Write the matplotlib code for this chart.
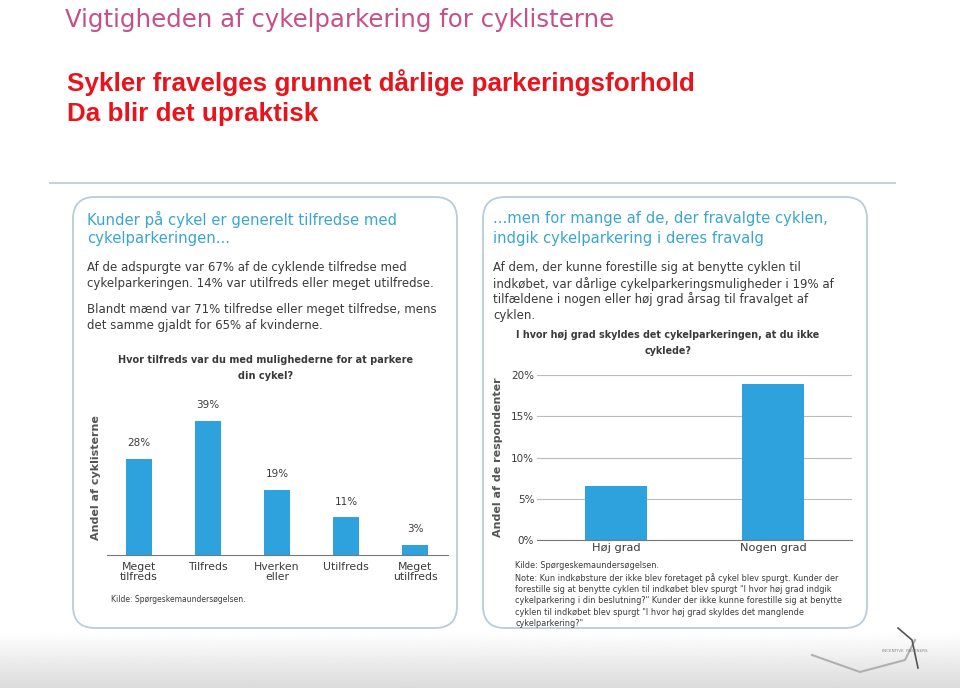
import numpy as np
import matplotlib.pyplot as plt
from matplotlib.patches import FancyBboxPatch

# data
sat_labels = ["Meget\ntilfreds", "Tilfreds", "Hverken\neller", "Utilfreds", "Meget\nutilfreds"]
sat_values = [28, 39, 19, 11, 3]

reason_labels = ["Høj grad", "Nogen grad"]
reason_values = [6.5, 18.9]
reason_ticks = [0, 5, 10, 15, 20]

bar_color = "#2da2dc"
head_color = "#3aa6cf"
text_color = "#3a3a3a"
frame_color = "#b9ccd8"

fig = plt.figure(figsize=(9.6, 6.88), dpi=100)

# background axes in pixel coordinates
bg = fig.add_axes([0, 0, 1, 1])
bg.set_xlim(0, 960)
bg.set_ylim(688, 0)
bg.axis("off")

# grey fade at the bottom of the slide
grad = np.linspace(1, 0.86, 60).reshape(-1, 1)
bg.imshow(grad, cmap="gray", vmin=0, vmax=1, extent=(0, 960, 688, 632), aspect="auto", zorder=0)

bg.text(65, 20, "Vigtigheden af cykelparkering for cyklisterne", color="#c8508a",
        fontsize=17.6, va="center", ha="left")
bg.text(67, 83, "Sykler fravelges grunnet dårlige parkeringsforhold", color="#e8141c",
        fontsize=18.7, fontweight="bold", family="Liberation Sans", va="center")
bg.text(67, 114, "Da blir det upraktisk", color="#e8141c",
        fontsize=18.7, fontweight="bold", family="Liberation Sans", va="center")
bg.plot([50, 895], [183, 183], color="#c5d3de", lw=1.5)

for x0 in (73, 483):
    bg.add_patch(FancyBboxPatch((x0, 197), 384, 431, boxstyle="round,pad=0,rounding_size=22",
                                fc="white", ec=frame_color, lw=1.3, zorder=1))

# left panel texts
bg.text(87, 219, "Kunder på cykel er generelt tilfredse med", color=head_color, fontsize=10.7, va="center")
bg.text(87, 239, "cykelparkeringen...", color=head_color, fontsize=10.7, va="center")
body = dict(color=text_color, fontsize=8.45, va="center")
bg.text(87, 267, "Af de adspurgte var 67% af de cyklende tilfredse med", **body)
bg.text(87, 283, "cykelparkeringen. 14% var utilfreds eller meget utilfredse.", **body)
bg.text(87, 310, "Blandt mænd var 71% tilfredse eller meget tilfredse, mens", **body)
bg.text(87, 326, "det samme gjaldt for 65% af kvinderne.", **body)
bg.text(266, 360, "Hvor tilfreds var du med mulighederne for at parkere", color=text_color,
        fontsize=7.0, fontweight="bold", ha="center", va="center")
bg.text(266, 376, "din cykel?", color=text_color, fontsize=7.0, fontweight="bold", ha="center", va="center")
bg.text(111, 600, "Kilde: Spørgeskemaundersøgelsen.", color=text_color, fontsize=5.5, va="center")

# right panel texts
bg.text(493, 219, "...men for mange af de, der fravalgte cyklen,", color=head_color, fontsize=10.6, va="center")
bg.text(493, 239, "indgik cykelparkering i deres fravalg", color=head_color, fontsize=10.6, va="center")
bg.text(493, 268, "Af dem, der kunne forestille sig at benytte cyklen til", **body)
bg.text(493, 284, "indkøbet, var dårlige cykelparkeringsmuligheder i 19% af", **body)
bg.text(493, 299, "tilfældene i nogen eller høj grad årsag til fravalget af", **body)
bg.text(493, 315, "cyklen.", **body)
bg.text(668, 335, "I hvor høj grad skyldes det cykelparkeringen, at du ikke", color=text_color,
        fontsize=6.9, fontweight="bold", ha="center", va="center")
bg.text(668, 351, "cyklede?", color=text_color, fontsize=6.9, fontweight="bold", ha="center", va="center")
note = ("Kilde: Spørgeskemaundersøgelsen.\n"
        "Note: Kun indkøbsture der ikke blev foretaget på cykel blev spurgt. Kunder der\n"
        "forestille sig at benytte cyklen til indkøbet blev spurgt \"I hvor høj grad indgik\n"
        "cykelparkering i din beslutning?\" Kunder der ikke kunne forestille sig at benytte\n"
        "cyklen til indkøbet blev spurgt \"I hvor høj grad skyldes det manglende\n"
        "cykelparkering?\"")
bg.text(515, 561, note, color=text_color, fontsize=5.9, va="top", linespacing=1.34)

# logo hint
bg.plot([812, 860, 905, 915], [655, 672, 660, 640], color="#b0b0b0", lw=1.5)
bg.plot([898, 912, 918], [628, 640, 668], color="#555555", lw=1.2)
bg.text(905, 651, "INCENTIVE  PARTNERS", color="#888888", fontsize=3, ha="center", va="center")

# left bar chart
ax1 = fig.add_axes([107 / 960, 1 - 555 / 688, 341 / 960, 155 / 688])
x1 = np.arange(len(sat_values))
ax1.bar(x1, sat_values, width=0.39, color=bar_color)
for xi, v in zip(x1, sat_values):
    ax1.text(xi, v + 3, f"{v}%", ha="center", va="bottom", fontsize=7.5, color=text_color)
ax1.set_xlim(-0.464, 4.478)
ax1.set_ylim(0, 45)
ax1.set_yticks([])
ax1.set_xticks(x1)
ax1.set_xticklabels(sat_labels, fontsize=7.8, color=text_color, linespacing=1.0)
ax1.tick_params(axis="x", length=0, pad=5)
for s in ["top", "right", "left"]:
    ax1.spines[s].set_visible(False)
ax1.spines["bottom"].set_color("#777777")
ax1.patch.set_alpha(0)
ax1.set_ylabel("Andel af cyklisterne", fontsize=8, fontweight="bold", color="#555555", labelpad=4)

# right bar chart
ax2 = fig.add_axes([537 / 960, 1 - 540 / 688, 315 / 960, 165 / 688])
x2 = np.arange(len(reason_values))
ax2.bar(x2, reason_values, width=0.395, color=bar_color, zorder=2)
ax2.set_xlim(-0.503, 1.503)
ax2.set_ylim(0, 20)
ax2.set_yticks(reason_ticks)
ax2.set_yticklabels([f"{t}%" for t in reason_ticks], fontsize=7.5, color=text_color)
ax2.grid(axis="y", color="#bbbbbb", lw=0.8, zorder=0)
ax2.set_xticks(x2)
ax2.set_xticklabels(reason_labels, fontsize=8.2, color=text_color)
ax2.tick_params(length=0, pad=2)
for s in ["top", "right", "left"]:
    ax2.spines[s].set_visible(False)
ax2.spines["bottom"].set_color("#777777")
ax2.patch.set_alpha(0)
ax2.set_ylabel("Andel af de respondenter", fontsize=8, fontweight="bold", color="#555555", labelpad=6)

fig.savefig("out.png", dpi=100)
